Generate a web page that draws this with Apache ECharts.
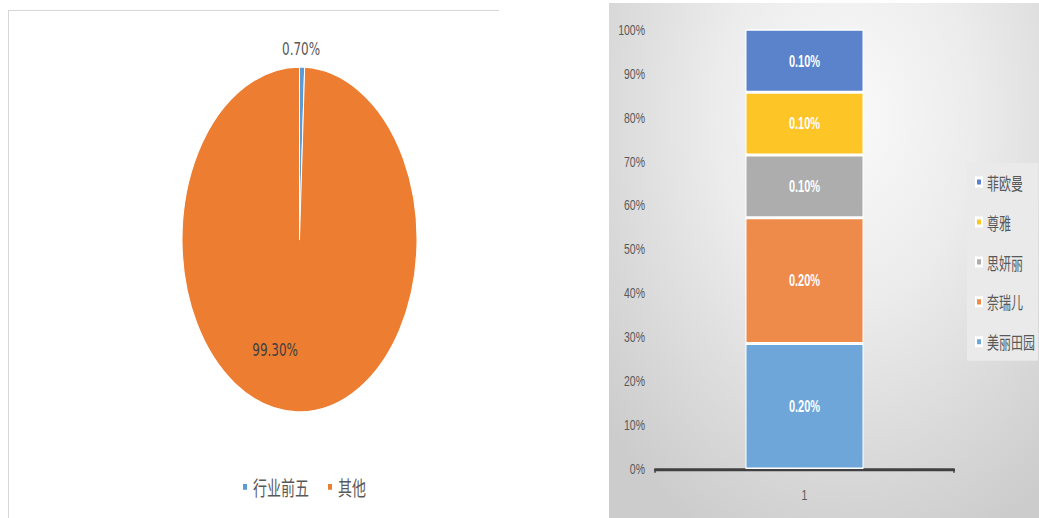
<!DOCTYPE html>
<html>
<head>
<meta charset="utf-8">
<script src="https://cdn.jsdelivr.net/npm/echarts@6/dist/echarts.min.js"></script>
<style>
html, body { margin: 0; padding: 0; background: #fff; }
#page { position: relative; width: 1039px; height: 518px; overflow: hidden; background: #fff; }
#leftFrame { position: absolute; left: 8px; top: 10px; width: 490px; height: 520px;
  border-top: 1px solid #d6d6d6; border-left: 1px solid #d6d6d6; }
#rightFrame { position: absolute; left: 609px; top: 3px; width: 430px; height: 515px;
  background: radial-gradient(ellipse 75% 90% at 55% 22%, #fafafa 0%, #ececec 40%, #d9d9d9 75%, #cccccc 100%); }
#chart { position: absolute; left: 0; top: 0; width: 1039px; transform-origin: 0 0; }
</style>
</head>
<body>
<div id="page">
  <div id="leftFrame"></div>
  <div id="rightFrame"></div>
  <div id="chart"></div>
</div>
<script>
// ---- data ----
const pieNames = ['行业前五', '其他'];
const pieValues = [0.7, 99.3];
const pieColors = ['#5b9bd5', '#ed7d31'];

const barCategories = ['1'];
const brandNames = ['美丽田园', '奈瑞儿', '思妍丽', '尊雅', '菲欧曼'];
const brandValues = [0.2, 0.2, 0.1, 0.1, 0.1];
const brandColors = ['#6ea6d9', '#ee8a4a', '#adadad', '#fdc526', '#5a83cc'];

// ---- layout (picture is stretched vertically) ----
const SY = 1.468;
const W = 1039;
const H = 518 / SY;
const chartDom = document.getElementById('chart');
chartDom.style.height = H + 'px';
chartDom.style.transform = 'scaleY(' + SY + ')';

const chart = echarts.init(chartDom, null, { renderer: 'svg', width: W, height: H });

const brandTotal = brandValues.reduce((a, b) => a + b, 0);
const brandShares = brandValues.map(v => v / brandTotal * 100);

const latin = "'Liberation Sans', 'Noto Sans CJK SC', sans-serif";
const cjk = "'Noto Sans CJK SC', 'Liberation Sans', sans-serif";

const barSeries = brandNames.map((name, i) => ({
  name: name,
  type: 'bar',
  stack: 'total',
  barWidth: 118,
  data: [brandShares[i]],
  itemStyle: { color: brandColors[i], borderColor: '#ffffff', borderWidth: 1 },
  label: {
    show: true,
    position: 'inside',
    color: '#ffffff',
    fontWeight: 'bold',
    fontSize: 11,
    fontFamily: latin,
    formatter: () => brandValues[i].toFixed(2) + '%'
  },
  emphasis: { disabled: true }
}));

const option = {
  animation: false,
  backgroundColor: 'transparent',
  legend: [
    {
      data: pieNames,
      orient: 'horizontal',
      left: 241,
      top: 323.7,
      padding: 0,
      icon: 'rect',
      itemWidth: 6,
      itemHeight: 6,
      itemGap: 17,
      selectedMode: false,
      textStyle: { fontFamily: cjk, fontSize: 14, lineHeight: 16, color: '#595959' }
    },
    {
      data: brandNames.slice().reverse(),
      orient: 'vertical',
      left: 967,
      top: 111,
      padding: [6, 3, 6, 8],
      backgroundColor: '#eaeaea',
      icon: 'rect',
      itemWidth: 6,
      itemHeight: 5.5,
      itemGap: 13.2,
      selectedMode: false,
      textStyle: { fontFamily: cjk, fontSize: 12, lineHeight: 14, color: '#595959' }
    }
  ],
  grid: {
    left: 655,
    right: W - 954,
    top: 20,
    bottom: H - 319.5,
    containLabel: false,
    outerBoundsMode: 'none'
  },
  xAxis: {
    type: 'category',
    data: barCategories,
    axisLine: { show: true, lineStyle: { color: '#404040', width: 2 } },
    axisTick: { show: true, length: 2.5, lineStyle: { color: '#404040', width: 1.5 } },
    axisLabel: { margin: 12, fontSize: 10.5, color: '#595959', fontFamily: latin },
    splitLine: { show: false }
  },
  yAxis: {
    type: 'value',
    min: 0,
    max: 100,
    interval: 10,
    axisLine: { show: false },
    axisTick: { show: false },
    splitLine: { show: false },
    axisLabel: { formatter: '{value}%', margin: 10, fontSize: 10.5, color: '#595959', fontFamily: latin }
  },
  series: [
    {
      type: 'pie',
      center: [299.5, 163.1],
      radius: 117.5,
      startAngle: 90,
      clockwise: true,
      avoidLabelOverlap: false,
      itemStyle: { borderColor: '#ffffff', borderWidth: 1 },
      labelLine: { show: false, length: 0, length2: 0 },
      label: {
        show: true,
        fontFamily: "'DejaVu Sans', sans-serif",
        fontSize: 12,
        formatter: p => pieValues[p.dataIndex].toFixed(2) + '%'
      },
      labelLayout: function (p) {
        if (p.dataIndex === 0) {
          return { align: 'center', dx: -6, dy: -12.2 };
        }
        return { dx: -23, dy: 14 };
      },
      emphasis: { disabled: true },
      data: pieNames.map((n, i) => ({
        name: n,
        value: pieValues[i],
        itemStyle: { color: pieColors[i] },
        label: i === 0
          ? { position: 'outside', color: '#595959' }
          : { position: 'inside', color: '#404040' }
      }))
    }
  ].concat(barSeries)
};

chart.setOption(option);
</script>
</body>
</html>
